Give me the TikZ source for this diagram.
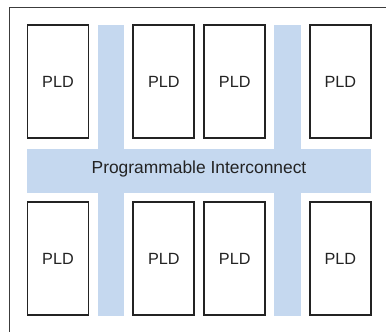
\documentclass[tikz,border=0pt]{standalone}
\usepackage{fontspec}
\setmainfont{Liberation Sans}
\definecolor{busblue}{RGB}{197,216,239}
\definecolor{framegray}{RGB}{60,60,60}
\definecolor{boxline}{RGB}{35,35,35}
\definecolor{txt}{RGB}{35,35,35}
\begin{document}
\begin{tikzpicture}[x=1pt,y=-1pt,
  pld/.style={draw=boxline, line width=1.8pt, fill=white, minimum width=61pt, minimum height=113pt, inner sep=0pt, text=txt, font=\fontsize{16.2}{19}\selectfont},
  bus/.style={fill=busblue, draw=none}]
\useasboundingbox (0,0) rectangle (386,332);
% outer frame (cut off at right and bottom)
\draw[framegray, line width=1.3pt] (9.5,340) -- (9.5,7.5) -- (394,7.5);
% interconnect
\fill[bus] (97.7,25) rectangle (124.3,316);
\fill[bus] (274.3,25) rectangle (301,316);
\fill[bus] (26.7,149) rectangle (371.3,192.7);
\node[text=txt, font=\fontsize{17.4}{20}\selectfont] (ic) at (199,168.5) {Programmable Interconnect};
% PLDs
\node[pld] (p1) at (58,81.8) {PLD};
\node[pld] (p2) at (163.8,81.8) {PLD};
\node[pld] (p3) at (234.7,81.8) {PLD};
\node[pld] (p4) at (340.3,81.8) {PLD};
\node[pld] (p5) at (58,258.8) {PLD};
\node[pld] (p6) at (163.8,258.8) {PLD};
\node[pld] (p7) at (234.7,258.8) {PLD};
\node[pld] (p8) at (340.3,258.8) {PLD};
\end{tikzpicture}
\end{document}
